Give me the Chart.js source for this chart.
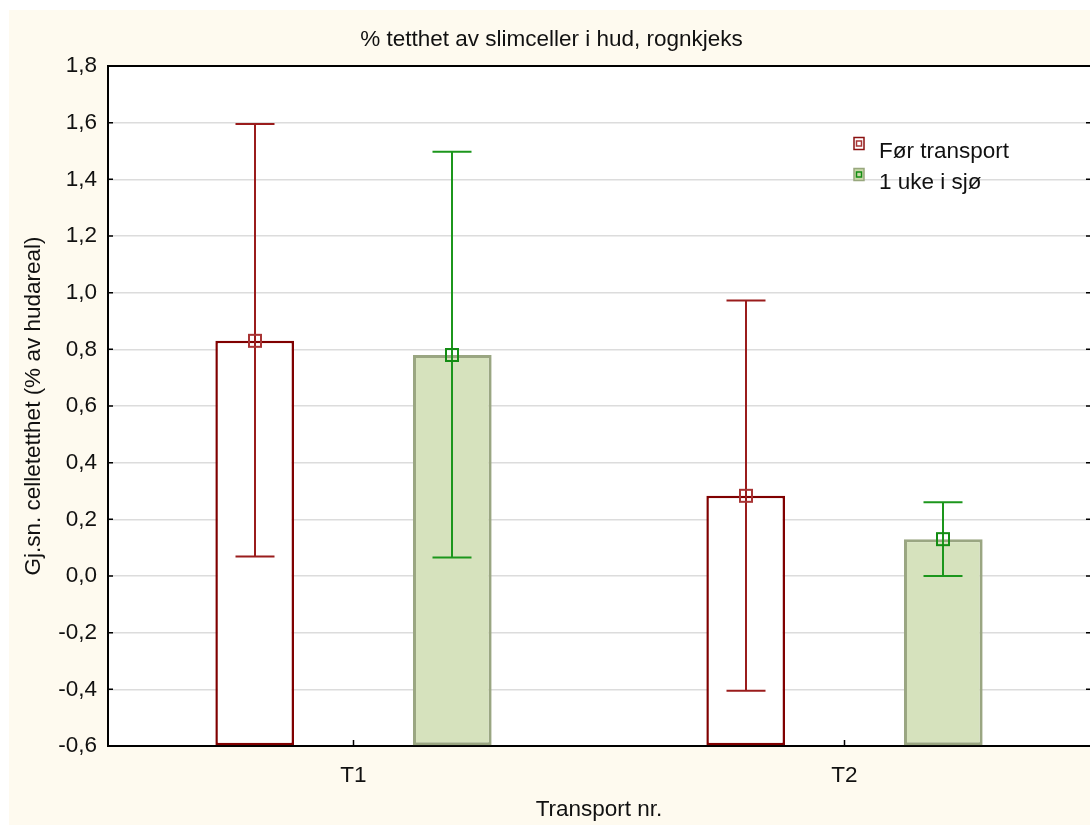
<!DOCTYPE html>
<html lang="no">
<head>
    <meta charset="UTF-8">
    <title>% tetthet av slimceller i hud, rognkjeks</title>
    <style>
        body {
            margin: 0;
            background: #ffffff;
            font-family: "Liberation Sans", Arial, sans-serif;
        }
        #wrap {
            position: absolute;
            left: 9px;
            top: 10px;
            width: 1081px;
            height: 815px;
        }
    </style>
</head>
<body>
    <div id="wrap"><canvas id="chart"></canvas></div>

    <script src="https://cdn.jsdelivr.net/npm/chart.js"></script>
    <script>
        // values
        const categories = ['T1', 'T2'];
        const seriesNames = ['Før transport', '1 uke i sjø'];
        const foerMean = [0.83, 0.283];
        const foerHi = [1.595, 0.972];
        const foerLo = [0.069, -0.405];
        const ukeMean = [0.78, 0.13];
        const ukeHi = [1.497, 0.26];
        const ukeLo = [0.065, 0.0];
        const yMin = -0.6, yMax = 1.8, yStep = 0.2;

        const errHi = [foerHi, ukeHi];
        const errLo = [foerLo, ukeLo];
        const whiskerColors = ['#9a1c1c', '#1c961c'];
        const markerColors = ['#a83434', '#138c13'];

        const FONT = '"Liberation Sans", Arial, sans-serif';
        const FS = 22.5;

        const fmt = v => {
            if (Math.abs(v) < 1e-9) v = 0;
            return v.toFixed(1).replace('.', ',');
        };

        const frame = {
            id: 'frame',
            beforeDraw(chart) {
                const { ctx, chartArea: a } = chart;
                ctx.save();
                ctx.fillStyle = '#fefaef';
                ctx.fillRect(0, 0, chart.width, chart.height);
                ctx.fillStyle = '#ffffff';
                ctx.fillRect(a.left, a.top, a.right - a.left, a.bottom - a.top);
                ctx.restore();
            },
            afterDraw(chart) {
                const { ctx, chartArea: a, scales } = chart;
                const edge = Math.min(a.right, chart.width);
                ctx.save();
                ctx.strokeStyle = '#000';
                ctx.lineWidth = 2;
                ctx.beginPath();
                ctx.moveTo(a.left - 1, a.top);
                ctx.lineTo(edge, a.top);
                ctx.stroke();
                // inner tick marks
                ctx.lineWidth = 1.5;
                scales.y.ticks.forEach(t => {
                    const py = scales.y.getPixelForValue(t.value);
                    ctx.beginPath();
                    ctx.moveTo(a.left, py); ctx.lineTo(a.left + 5, py);
                    ctx.moveTo(edge - 4, py); ctx.lineTo(edge, py);
                    ctx.stroke();
                });
                categories.forEach((c, i) => {
                    const px = scales.x.getPixelForValue(i);
                    ctx.beginPath();
                    ctx.moveTo(px, a.bottom); ctx.lineTo(px, a.bottom - 6);
                    ctx.stroke();
                });

                // legend
                const lx = a.left + 746;
                const rows = [a.top + 86, a.top + 117];
                ctx.font = FS + 'px ' + FONT;
                ctx.textBaseline = 'middle';
                ctx.textAlign = 'left';
                seriesNames.forEach((name, i) => {
                    const my = rows[i] - 8.5;
                    ctx.lineWidth = 1.5;
                    if (i === 0) {
                        ctx.fillStyle = '#ffffff';
                        ctx.strokeStyle = '#8b1010';
                    } else {
                        ctx.fillStyle = '#c9d9a9';
                        ctx.strokeStyle = '#98a77e';
                    }
                    ctx.fillRect(lx, my - 6, 10, 12);
                    ctx.strokeRect(lx, my - 6, 10, 12);
                    ctx.strokeStyle = markerColors[i];
                    ctx.strokeRect(lx + 2.5, my - 2.5, 5, 5);
                    ctx.fillStyle = '#111';
                    ctx.fillText(name, lx + 25, rows[i]);
                });
                ctx.restore();
            }
        };

        const errorBars = {
            id: 'errorBars',
            afterDatasetsDraw(chart) {
                const { ctx, scales: { y } } = chart;
                ctx.save();
                chart.data.datasets.forEach((ds, i) => {
                    const meta = chart.getDatasetMeta(i);
                    meta.data.forEach((bar, j) => {
                        const x = Math.round(bar.x);
                        const top = y.getPixelForValue(errHi[i][j]);
                        const bot = y.getPixelForValue(errLo[i][j]);
                        const mid = y.getPixelForValue(ds.data[j]);
                        ctx.strokeStyle = whiskerColors[i];
                        ctx.lineWidth = 2;
                        ctx.beginPath();
                        ctx.moveTo(x, top); ctx.lineTo(x, bot);
                        ctx.moveTo(x - 19.5, top); ctx.lineTo(x + 19.5, top);
                        ctx.moveTo(x - 19.5, bot); ctx.lineTo(x + 19.5, bot);
                        ctx.stroke();
                        ctx.strokeStyle = markerColors[i];
                        ctx.strokeRect(x - 6, mid - 6, 12, 12);
                    });
                });
                ctx.restore();
            }
        };

        new Chart(document.getElementById('chart'), {
            type: 'bar',
            data: {
                labels: categories,
                datasets: [
                    {
                        label: seriesNames[0],
                        data: foerMean,
                        base: yMin,
                        backgroundColor: '#ffffff',
                        borderColor: '#800000',
                        borderWidth: 2.5,
                        borderSkipped: false
                    },
                    {
                        label: seriesNames[1],
                        data: ukeMean,
                        base: yMin,
                        backgroundColor: '#d6e2bd',
                        borderColor: '#9aa682',
                        borderWidth: 3,
                        borderSkipped: false
                    }
                ]
            },
            options: {
                responsive: true,
                maintainAspectRatio: false,
                animation: false,
                categoryPercentage: 0.805,
                barPercentage: 0.398,
                layout: { padding: { left: 0, right: -4, top: 0, bottom: 0 } },
                plugins: {
                    legend: { display: false },
                    tooltip: { enabled: false },
                    title: {
                        display: true,
                        text: '% tetthet av slimceller i hud, rognkjeks',
                        color: '#111',
                        font: { family: FONT, size: FS, weight: 'normal' },
                        padding: { top: 16, bottom: 13 }
                    }
                },
                scales: {
                    x: {
                        grid: { display: false, drawTicks: false },
                        border: { display: true, color: '#000', width: 2 },
                        ticks: { color: '#111', font: { family: FONT, size: FS }, padding: 16 },
                        title: {
                            display: true,
                            text: 'Transport nr.',
                            color: '#111',
                            font: { family: FONT, size: FS },
                            padding: { top: 0, bottom: 2 }
                        },
                        afterFit(scale) { scale.height = 79; }
                    },
                    y: {
                        min: yMin,
                        max: yMax,
                        ticks: {
                            stepSize: yStep,
                            color: '#111',
                            font: { family: FONT, size: FS },
                            padding: 11,
                            callback: v => fmt(v)
                        },
                        grid: { color: '#dcdcdc', lineWidth: 1.5, drawTicks: false },
                        border: { display: true, color: '#000', width: 2 },
                        title: {
                            display: true,
                            text: 'Gj.sn. celletetthet (% av hudareal)',
                            color: '#111',
                            font: { family: FONT, size: FS },
                            padding: { top: 11, bottom: 0 }
                        },
                        afterFit(scale) { scale.width = 99; }
                    }
                }
            },
            plugins: [frame, errorBars]
        });
    </script>
</body>
</html>
